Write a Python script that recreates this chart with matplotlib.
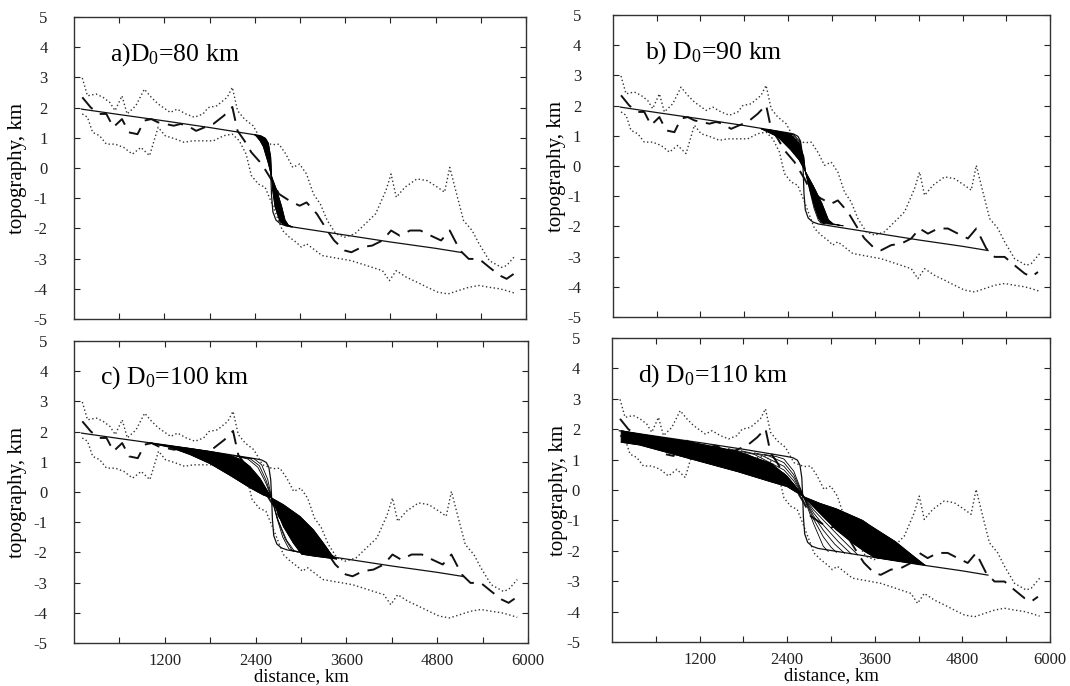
import numpy as np
import matplotlib
matplotlib.use("Agg")
import matplotlib.pyplot as plt

plt.rcParams['font.family'] = ['Liberation Serif', 'DejaVu Serif']
plt.rcParams['mathtext.fontset'] = 'custom'
plt.rcParams['mathtext.rm'] = 'Liberation Serif'
plt.rcParams['mathtext.it'] = 'Liberation Serif'

# ---------------- observed topography (same in all panels) ----------------
obs_x = [110, 224, 339, 430, 522, 637, 728, 843, 934, 1026, 1117, 1209, 1324, 1415,
         1507, 1621, 1736, 1850, 1988, 2102, 2171, 2263, 2354, 2492, 2629, 2721, 2858,
         2995, 3087, 3224, 3362, 3453, 3591, 3682, 3820, 3957, 4095, 4209, 4324, 4461,
         4598, 4736, 4873, 4988, 5056, 5125, 5240, 5377, 5514, 5652, 5743, 5835]
mean_y = [2.34, 2.00, 1.79, 1.79, 1.35, 1.62, 1.18, 1.12, 1.57, 1.62, 1.51, 1.46, 1.40, 1.46,
          1.40, 1.23, 1.35, 1.46, 1.73, 2.02, 1.23, 0.90, 0.52, 0.13, -0.42, -0.86, -1.08,
          -1.25, -1.14, -1.52, -2.07, -2.40, -2.73, -2.79, -2.62, -2.57, -2.40, -2.07, -2.24, -2.07,
          -2.07, -2.24, -2.40, -2.07, -2.40, -2.73, -3.01, -3.01, -3.29, -3.56, -3.67, -3.51]

upper_x = [110, 179, 293, 385, 476, 545, 637, 705, 820, 934, 1026, 1117, 1278, 1369, 1484,
           1598, 1713, 1782, 1896, 2033, 2102, 2171, 2263, 2377, 2492, 2629, 2721, 2812, 2904,
           2995, 3087, 3178, 3270, 3362, 3476, 3591, 3728, 3866, 4003, 4140, 4209, 4278, 4392,
           4553, 4690, 4827, 4919, 4988, 5056, 5171, 5285, 5377, 5514, 5674, 5743, 5858]
upper_y = [2.98, 2.39, 2.45, 2.34, 2.17, 1.90, 2.39, 1.79, 2.06, 2.61, 2.34, 2.12, 1.84, 1.95, 1.79,
           1.68, 1.79, 2.00, 2.06, 2.34, 2.67, 1.90, 1.62, 1.40, 0.90, 0.77, 0.79, 0.46, 0.02,
           0.13, -0.20, -0.86, -1.19, -1.74, -2.18, -2.29, -2.18, -1.85, -1.52, -0.75, -0.20, -0.97, -0.64,
           -0.36, -0.42, -0.64, -0.80, 0.02, -0.64, -1.74, -2.07, -2.51, -3.07, -3.29, -3.23, -2.90]

lower_x = [110, 179, 247, 339, 430, 545, 660, 774, 888, 1003, 1117, 1209, 1347, 1461, 1576,
           1713, 1850, 1988, 2102, 2194, 2285, 2354, 2446, 2537, 2629, 2698, 2767, 2858, 2950,
           3018, 3087, 3178, 3293, 3408, 3545, 3682, 3820, 3957, 4095, 4186, 4278, 4415, 4553,
           4690, 4827, 4965, 5102, 5240, 5377, 5514, 5652, 5743, 5858]
lower_y = [1.79, 1.68, 1.18, 1.07, 0.79, 0.79, 0.68, 0.46, 0.68, 0.41, 1.35, 1.07, 0.96, 0.85, 0.90,
           0.90, 0.90, 1.07, 1.12, 0.90, 0.46, -0.25, -0.53, -0.64, -1.19, -1.63, -2.07, -2.29, -2.46,
           -2.62, -2.51, -2.68, -2.90, -2.95, -3.01, -3.07, -3.18, -3.29, -3.40, -3.73, -3.40, -3.62, -3.78,
           -3.95, -4.11, -4.17, -4.06, -3.95, -3.89, -3.95, -4.00, -4.06, -4.15]

# ---------------- initial model profile (same in all panels) ----------------
init_x = [100, 600, 1200, 1800, 2400, 2480, 2540, 2575, 2600, 2612, 2622, 2640, 2680,
          2740, 2820, 3000, 3600, 4200, 4800, 5150]
init_y = [1.95, 1.77, 1.56, 1.34, 1.10, 1.06, 0.98, 0.82, 0.40, -0.20, -0.90, -1.45, -1.72,
          -1.85, -1.92, -1.99, -2.22, -2.45, -2.66, -2.80]

# ---------------- evolved profiles: edges of the dense family of curves ----------------
a_early_x = [2400, 2480, 2540, 2580, 2611, 2624, 2637, 2668, 2735, 2801, 2880]
a_early_y = [1.10, 1.06, 0.98, 0.82, 0.37, -0.29, -0.73, -1.28, -1.78, -1.89, -1.95]
a_final_x = [2400, 2425, 2470, 2513, 2579, 2624, 2690, 2757, 2801, 2845, 2900]
a_final_y = [1.10, 1.04, 0.90, 0.71, 0.16, -0.29, -0.73, -1.28, -1.72, -1.89, -1.95]

b_early_x = [2036, 2262, 2442, 2556, 2619, 2641, 2686, 2754, 2822, 2889]
b_early_y = [1.23, 1.14, 1.03, 0.75, 0.31, -0.18, -0.57, -1.23, -1.73, -1.90]
b_final_x = [2036, 2262, 2442, 2556, 2641, 2754, 2867, 2957, 3024, 3160]
b_final_y = [1.23, 0.97, 0.53, 0.20, -0.18, -0.68, -1.23, -1.78, -1.92, -1.98]
b_thin_x = [[2150, 2350, 2480, 2570, 2641, 2700, 2760, 2820, 2860],
            [2100, 2300, 2460, 2565, 2641, 2710, 2780, 2850, 2900]]
b_thin_y = [[1.20, 1.11, 1.04, 0.80, -0.18, -0.80, -1.40, -1.80, -1.90],
            [1.21, 1.12, 1.04, 0.78, -0.18, -0.85, -1.45, -1.85, -1.93]]

c_early_x = [1004, 1269, 1533, 1797, 2062, 2216, 2326, 2458, 2612, 2767, 2899, 3009, 3163, 3405, 3471]
c_early_y = [1.62, 1.53, 1.44, 1.34, 1.22, 1.06, 0.84, 0.45, -0.20, -1.14, -1.69, -2.06, -2.12, -2.20, -2.22]
c_final_x = [1004, 1269, 1533, 1797, 2062, 2326, 2502, 2612, 2767, 2987, 3163, 3295, 3405, 3471]
c_final_y = [1.62, 1.48, 1.24, 0.94, 0.55, 0.14, -0.10, -0.20, -0.42, -0.81, -1.25, -1.69, -2.08, -2.22]
c_thin_x = [[2200, 2380, 2480, 2560, 2612, 2680, 2760, 2840, 2900],
            [2150, 2330, 2450, 2540, 2612, 2690, 2790, 2880, 2950],
            [2100, 2300, 2430, 2530, 2612, 2700, 2810, 2910, 2990]]
c_thin_y = [[1.17, 1.10, 0.90, 0.42, -0.20, -0.85, -1.50, -1.88, -1.97],
            [1.19, 1.10, 0.87, 0.38, -0.20, -0.90, -1.55, -1.92, -1.99],
            [1.21, 1.09, 0.82, 0.33, -0.20, -0.95, -1.60, -1.95, -2.01]]

d_early_x = [125, 378, 1052, 1726, 2175, 2400, 2625, 2849, 3073, 3300, 3460, 3600, 4286]
d_early_y = [1.95, 1.84, 1.59, 1.26, 0.88, 0.45, -0.22, -0.77, -1.31, -1.75, -2.02, -2.22, -2.47]
d_final_x = [125, 378, 1052, 1726, 2175, 2400, 2625, 2849, 3073, 3433, 3523, 3883, 4100, 4286]
d_final_y = [1.57, 1.48, 1.04, 0.60, 0.27, 0.11, -0.22, -0.44, -0.62, -1.00, -1.15, -1.70, -2.12, -2.47]
d_thin_x = [[2085, 2250, 2355, 2490, 2625, 2760, 2894, 2962],
            [1951, 2150, 2355, 2490, 2625, 2760, 2894, 3000, 3073],
            [1771, 2050, 2355, 2490, 2625, 2760, 2894, 3050, 3186],
            [1591, 1950, 2355, 2490, 2625, 2760, 2894, 3100, 3276],
            [1411, 1850, 2355, 2490, 2625, 2760, 2894, 3150, 3366]]
d_thin_y = [[1.17, 1.10, 1.02, 0.62, -0.22, -1.10, -1.85, -2.02],
            [1.22, 1.12, 0.90, 0.50, -0.22, -0.95, -1.54, -1.88, -2.05],
            [1.29, 1.14, 0.78, 0.40, -0.22, -0.85, -1.32, -1.78, -2.08],
            [1.36, 1.17, 0.66, 0.30, -0.22, -0.75, -1.15, -1.70, -2.10],
            [1.43, 1.18, 0.55, 0.20, -0.22, -0.65, -0.99, -1.62, -2.13]]

titles = [r'a)D$_0$=80 km', r'b) D$_0$=90 km', r'c) D$_0$=100 km', r'd) D$_0$=110 km']
x_ticks = [600, 1200, 1800, 2400, 3000, 3600, 4200, 4800, 5400, 6000]
x_ticklabels = ['', '1200', '', '2400', '', '3600', '', '4800', '', '6000']
y_ticks = [5, 4, 3, 2, 1, 0, -1, -2, -3, -4, -5]

panels = [
    dict(early=(a_early_x, a_early_y), final=(a_final_x, a_final_y), thin=([], [])),
    dict(early=(b_early_x, b_early_y), final=(b_final_x, b_final_y), thin=(b_thin_x, b_thin_y)),
    dict(early=(c_early_x, c_early_y), final=(c_final_x, c_final_y), thin=(c_thin_x, c_thin_y)),
    dict(early=(d_early_x, d_early_y), final=(d_final_x, d_final_y), thin=(d_thin_x, d_thin_y)),
]

W, H = 1070, 686
fig = plt.figure(figsize=(W / 100, H / 100), dpi=100)
boxes = [(74, 17, 452, 302), (613, 15, 437, 302), (74, 341, 454, 302), (612, 338, 438, 304)]
title_pos = [(0.08, 0.875), (0.073, 0.874), (0.057, 0.88), (0.059, 0.878)]
ylab_x = [-0.104, -0.108, -0.104, -0.100]

for i, (p, box) in enumerate(zip(panels, boxes)):
    l, t, w, h = box
    ax = fig.add_axes([l / W, 1 - (t + h) / H, w / W, h / H])
    ax.set_xlim(0, 6000)
    ax.set_ylim(-5, 5)

    ax.plot(upper_x, upper_y, color='#333333', lw=1.0, ls=(0, (1, 1.8)))
    ax.plot(lower_x, lower_y, color='#333333', lw=1.0, ls=(0, (1, 1.8)))
    ax.plot(obs_x, mean_y, color='#111111', lw=1.4, ls=(0, (8, 4.5)))
    ax.plot(init_x, init_y, color='#111111', lw=0.9)

    ex, ey = p['early']
    fx, fy = p['final']
    ax.fill(np.concatenate([ex, fx[::-1]]), np.concatenate([ey, fy[::-1]]),
            color='black', lw=0.6, zorder=4)
    ax.plot(ex, ey, color='black', lw=0.6, zorder=4)
    ax.plot(fx, fy, color='black', lw=0.6, zorder=4)
    for tx, ty in zip(*p['thin']):
        ax.plot(tx, ty, color='black', lw=0.6, zorder=4)

    ax.set_yticks(y_ticks)
    ax.set_yticklabels([str(v) for v in y_ticks])
    ax.set_xticks(x_ticks)
    if i >= 2:
        ax.set_xticklabels(x_ticklabels)
        ax.set_xlabel('distance, km', fontsize=13.5)
        ax.xaxis.set_label_coords(0.5, -0.083)
    else:
        ax.set_xticklabels([])
    ax.tick_params(direction='in', top=True, right=True, length=4, width=0.8,
                   labelsize=12, colors='#222222')
    ax.tick_params(axis='y', pad=19 if i in (0, 2) else 23)
    ax.tick_params(axis='x', pad=7)
    ax.set_ylabel('topography, km', fontsize=15)
    ax.yaxis.set_label_coords(ylab_x[i], 0.5)
    for s in ax.spines.values():
        s.set_linewidth(1.0)
        s.set_color('#333333')
    ax.text(title_pos[i][0], title_pos[i][1], titles[i], transform=ax.transAxes,
            fontsize=18.5, ha='left', va='center')

fig.savefig('out.png', dpi=100)
